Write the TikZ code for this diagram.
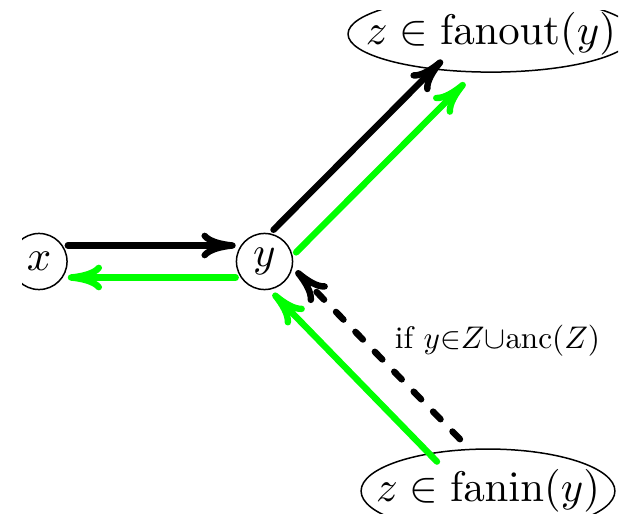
\documentclass[tikz,border=0pt]{standalone}
\usetikzlibrary{arrows.meta,shapes.geometric}
\definecolor{brightgreen}{RGB}{0,255,0}
\begin{document}
\begin{tikzpicture}[x=0.2336pt,y=-0.2336pt,
  vtx/.style={circle,draw,line width=0.35pt,inner sep=0pt,minimum size=13.1pt},
  oval/.style={ellipse,draw,line width=0.35pt,inner sep=0pt},
  blk/.style={line width=1.5pt,line cap=round,-{Computer Modern Rightarrow[length=8pt,width=6pt,round]}},
  grn/.style={blk,draw=brightgreen},
  dsh/.style={blk,dash pattern=on 2.5pt off 4pt},
  lbl/.style={inner sep=0pt}
]
\useasboundingbox (0,0) rectangle (620,514);
\begin{scope}
\clip (22,10) rectangle (618,514);
\node[vtx] (x) at (39,261.5) {$x$};
\node[vtx] (y) at (264.5,261.5) {$y$};
\node[oval,minimum width=66.8pt,minimum height=17.8pt] (fo) at (491,34) {\makebox[0pt]{$z\in\mathrm{fanout}(y)$}};
\node[oval,minimum width=59.3pt,minimum height=19.6pt] (fi) at (488,491) {\makebox[0pt]{$z\in\mathrm{fanin}(y)$}};
\node[lbl] (l) at (497.5,341) {\scalebox{0.73}{if $y{\in}Z{\cup}\mathrm{anc}(Z)$}};
\draw[blk,transform canvas={shift={(0,-16)}}] (x) -- (y);
\draw[grn,transform canvas={shift={(0,16)}}] (y) -- (x);
\draw[blk,transform canvas={shift={(-11.3,-11.3)}}] (y) -- (fo);
\draw[grn,transform canvas={shift={(11.3,11.3)}}] (y) -- (fo);
\draw[dsh,transform canvas={shift={(11.5,-11.2)}}] (fi) -- (y);
\draw[grn,transform canvas={shift={(-11.5,11.2)}}] (fi) -- (y);
\end{scope}
\end{tikzpicture}
\end{document}
